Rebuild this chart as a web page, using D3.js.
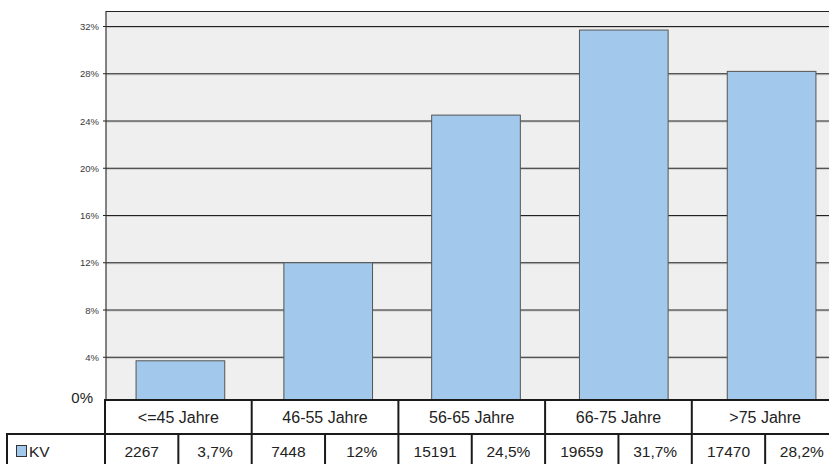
<!DOCTYPE html>
<html lang="de">
<head>
<meta charset="UTF-8" />
<title>KV Altersgruppen</title>
<style>
  body { margin: 0; background: #fff; }
  text { font-family: "Liberation Sans", Arial, sans-serif; }
</style>
</head>
<body>
<svg id="svg" width="829" height="464"></svg>
<script src="https://d3js.org/d3.v7.min.js"></script>
<script>
  const categories = ["<=45 Jahre", "46-55 Jahre", "56-65 Jahre", "66-75 Jahre", ">75 Jahre"];
  const counts = [2267, 7448, 15191, 19659, 17470];
  const percents = [3.7, 12, 24.5, 31.7, 28.2];
  const percentLabels = ["3,7%", "12%", "24,5%", "31,7%", "28,2%"];
  const yTicks = [4, 8, 12, 16, 20, 24, 28, 32];
  const seriesName = "KV";

  const svg = d3.select("#svg");
  const plotLeft = 106, plotTop = 11;

  // plot area
  const x = d3.scaleBand().domain(categories).range([plotLeft, 845]).paddingInner(0.4).paddingOuter(0.2);
  const y = d3.scaleLinear().domain([0, 32]).range([404, 26]);

  svg.append("rect")
    .attr("x", plotLeft).attr("y", plotTop)
    .attr("width", 829 - plotLeft).attr("height", 404 - plotTop)
    .attr("fill", "#efefef");

  // top border
  svg.append("line")
    .attr("x1", plotLeft).attr("x2", 829).attr("y1", plotTop + 0.5).attr("y2", plotTop + 0.5)
    .attr("stroke", "#222").attr("stroke-width", 1.2);

  // gridlines (with light shadow)
  svg.selectAll(".shadow").data(yTicks).enter().append("line")
    .attr("x1", plotLeft).attr("x2", 829)
    .attr("y1", (d) => y(d) + 1.5).attr("y2", (d) => y(d) + 1.5)
    .attr("stroke", "#c8c8c8").attr("stroke-width", 1);
  svg.selectAll(".grid").data(yTicks).enter().append("line")
    .attr("x1", plotLeft - 3).attr("x2", 829)
    .attr("y1", (d) => y(d) + 0.5).attr("y2", (d) => y(d) + 0.5)
    .attr("stroke", "#222").attr("stroke-width", 1.2);

  svg.selectAll(".tick").data(yTicks).enter().append("text")
    .attr("x", 99).attr("y", (d) => y(d) + 4)
    .attr("text-anchor", "end")
    .attr("font-size", 9.5).attr("fill", "#3a3a3a")
    .text((d) => d + "%");

  // left axis
  svg.append("line")
    .attr("x1", plotLeft).attr("x2", plotLeft).attr("y1", plotTop).attr("y2", 404)
    .attr("stroke", "#333").attr("stroke-width", 1.2);

  // bars
  svg.selectAll(".bar").data(percents).enter().append("rect")
    .attr("x", (d, i) => x(categories[i]) + 0.5)
    .attr("y", (d) => y(d) + 0.5)
    .attr("width", x.bandwidth())
    .attr("height", (d) => y(0) - y(d))
    .attr("fill", "#a2c8eb")
    .attr("stroke", "#555").attr("stroke-width", 1);

  svg.append("text")
    .attr("x", 93).attr("y", 403)
    .attr("text-anchor", "end")
    .attr("font-size", 15).attr("fill", "#222")
    .text("0%");

  // data table
  const t = d3.scaleBand().domain(categories).range([105, 838.5]);
  const row1 = 400, row2 = 434, rowEnd = 470;
  const tbl = svg.append("g");

  tbl.append("rect")
    .attr("x", 105).attr("y", row1).attr("width", 733.5).attr("height", row2 - row1)
    .attr("fill", "#fff");
  tbl.append("rect")
    .attr("x", 7).attr("y", row2).attr("width", 831.5).attr("height", rowEnd - row2)
    .attr("fill", "#fff");

  const stroke = (sel) => sel.attr("stroke", "#1a1a1a").attr("stroke-width", 2);

  stroke(tbl.append("line").attr("x1", 104).attr("x2", 840).attr("y1", row1).attr("y2", row1));
  stroke(tbl.append("line").attr("x1", 6).attr("x2", 840).attr("y1", row2).attr("y2", row2));
  stroke(tbl.append("line").attr("x1", 7).attr("x2", 7).attr("y1", row2).attr("y2", rowEnd));

  // category column dividers
  stroke(tbl.selectAll(".cdiv").data(categories).enter().append("line")
    .attr("x1", (d) => t(d)).attr("x2", (d) => t(d))
    .attr("y1", row1).attr("y2", rowEnd));
  // half dividers
  stroke(tbl.selectAll(".hdiv").data(categories).enter().append("line")
    .attr("x1", (d) => t(d) + t.bandwidth() / 2).attr("x2", (d) => t(d) + t.bandwidth() / 2)
    .attr("y1", row2).attr("y2", rowEnd));

  tbl.selectAll(".cat").data(categories).enter().append("text")
    .attr("x", (d) => t(d) + t.bandwidth() / 2).attr("y", 423)
    .attr("text-anchor", "middle").attr("font-size", 16).attr("fill", "#222")
    .text((d) => d);

  tbl.selectAll(".cnt").data(counts).enter().append("text")
    .attr("x", (d, i) => t(categories[i]) + t.bandwidth() / 4).attr("y", 457)
    .attr("text-anchor", "middle").attr("font-size", 15.5).attr("fill", "#222")
    .text((d) => d);

  tbl.selectAll(".pct").data(percentLabels).enter().append("text")
    .attr("x", (d, i) => t(categories[i]) + t.bandwidth() * 3 / 4).attr("y", 457)
    .attr("text-anchor", "middle").attr("font-size", 15.5).attr("fill", "#222")
    .text((d) => d);

  // legend
  tbl.append("rect")
    .attr("x", 16.5).attr("y", 445.5).attr("width", 10).attr("height", 11)
    .attr("fill", "#a2c8eb").attr("stroke", "#333").attr("stroke-width", 1);
  tbl.append("text")
    .attr("x", 29).attr("y", 457).attr("font-size", 15.5).attr("fill", "#222")
    .text(seriesName);
</script>
</body>
</html>
